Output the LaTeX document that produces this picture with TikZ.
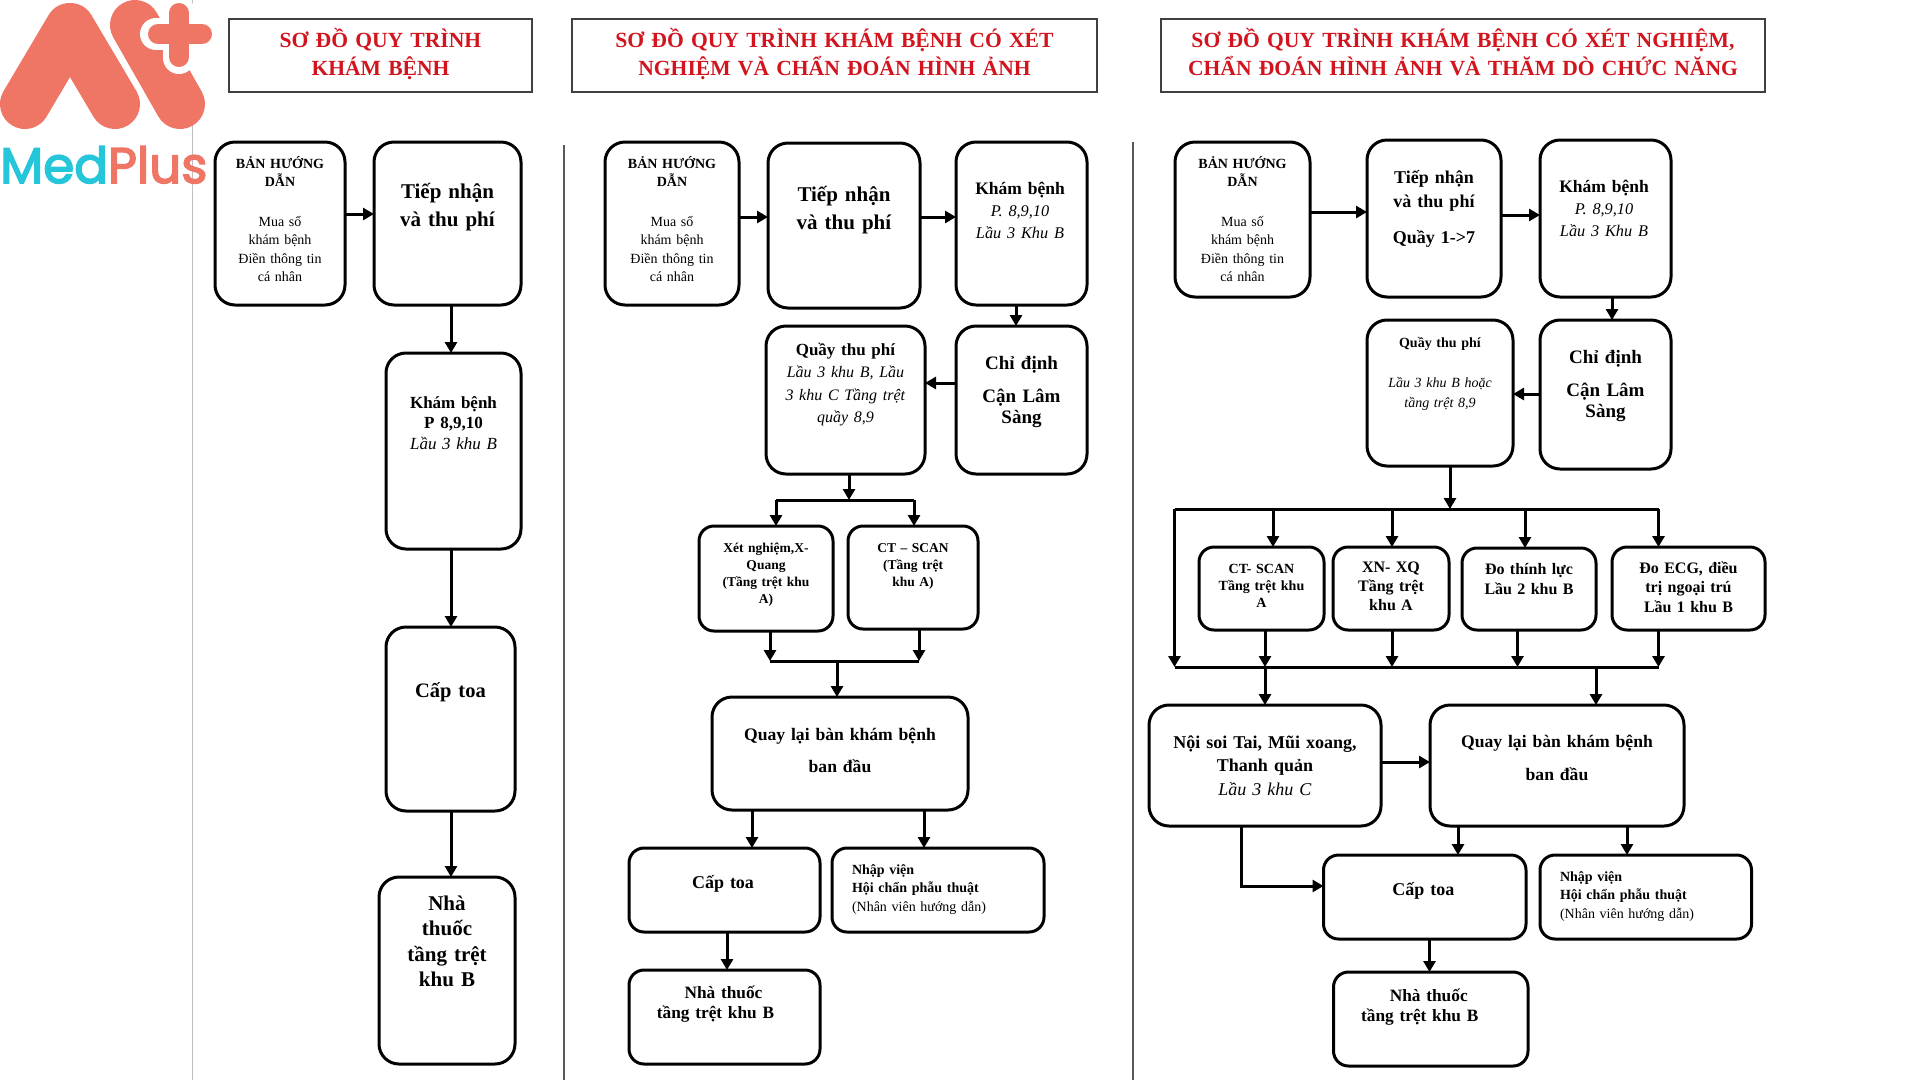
\documentclass[tikz,border=0pt]{standalone}
\usepackage{fontspec}
\setmainfont{Liberation Serif}
\newfontfamily\logofont[FakeBold=3]{Poppins}
\usetikzlibrary{arrows.meta, positioning, calc}

\newcommand{\fnt}[2]{\fontsize{#1}{#2}\selectfont}
\definecolor{titlered}{HTML}{D2141E}
\definecolor{logocoral}{HTML}{EF7565}
\definecolor{logocyan}{HTML}{26C6DA}

\tikzset{
    flowbox/.style n args={3}{draw, line width=3pt, rounded corners=20pt, anchor=north west, inner sep=0pt, outer sep=0pt,
        align=center, text width=#1pt, text height=#3pt, text depth=#2pt-#3pt},
    headbox/.style n args={3}{draw=black!75, line width=1.6pt, anchor=north west, inner sep=0pt, outer sep=0pt,
        align=center, text width=#1pt, text height=#3pt, text depth=#2pt-#3pt, text=titlered, font=\fnt{21.6}{28}\bfseries},
    arr/.style={line width=3pt, -{Triangle[length=11pt,width=12pt]}},
    busline/.style={line width=3pt},
    sepline/.style={line width=1.5pt, draw=black!65},
}

\begin{document}
\begin{tikzpicture}[x=1pt,y=-1pt]
    \useasboundingbox (0,0) rectangle (1920,1080);
    \fill[white] (0,0) rectangle (1920,1080);

    % Column separators
    \draw[sepline, draw=black!25] (192.5,0) -- (192.5,1080);
    \draw[sepline] (564,145) -- (564,1080);
    \draw[sepline] (1133,142) -- (1133,1080);

    % Logo
    \draw[logocoral, line width=50pt, line cap=round, line join=round] (25,104) -- (70,28) -- (115,104);
    \draw[white, line width=60pt, line cap=round] (135,25) -- (178,98);
    \draw[logocoral, line width=50pt, line cap=round] (135,25) -- (180,104);
    \draw[white, line width=32pt, line cap=round] (156,34) -- (204,34) (179,12) -- (179,58);
    \draw[logocoral, line width=20pt, line cap=round] (158,34) -- (202,34) (179,13) -- (179,57);
    \node[anchor=base west, inner sep=0pt, font=\logofont\fontsize{50}{50}\selectfont] (logotext) at (0,183)
        {\textcolor{logocyan}{Med}\textcolor{logocoral}{Plus}};

    % Column 1
    \node[headbox={303}{73}{28}] (hda) at (229,19) {SƠ ĐỒ QUY TRÌNH\\KHÁM BỆNH};
    \node[flowbox={130}{163}{26}, font=\fnt{14}{18.5}] (aguide) at (215,142)
        {\textbf{BẢN HƯỚNG\\DẪN}\\[21pt]Mua sổ\\khám bệnh\\Điền thông tin\\cá nhân};
    \node[flowbox={147}{163}{56}, font=\fnt{21}{28}\bfseries] (arecv) at (374,142) {Tiếp nhận\\và thu phí};
    \node[flowbox={135}{196}{55}, font=\fnt{17}{20.5}] (aexam) at (386,353)
        {\textbf{Khám bệnh\\P 8,9,10}\\\textit{Lầu 3 khu B}};
    \node[flowbox={129}{184}{70}, font=\fnt{20.5}{24}\bfseries] (apres) at (386,627) {Cấp toa};
    \node[flowbox={136}{187}{33}, font=\fnt{21}{25.5}\bfseries] (apharm) at (379,877)
        {Nhà\\thuốc\\tầng trệt\\khu B};

    \coordinate (adown) at (451,0);
    \draw[arr] (aguide.east |- 0,214) -- (arecv.west |- 0,214);
    \draw[arr] (arecv.south -| adown) -- (aexam.north -| adown);
    \draw[arr] (aexam.south -| adown) -- (apres.north -| adown);
    \draw[arr] (apres.south -| adown) -- (apharm.north -| adown);

    % Column 2
    \node[headbox={525}{73}{28}] (hdb) at (572,19) {SƠ ĐỒ QUY TRÌNH KHÁM BỆNH CÓ XÉT\\NGHIỆM VÀ CHẨN ĐOÁN HÌNH ẢNH};
    \node[flowbox={134}{163}{26}, font=\fnt{14}{18.5}] (bguide) at (605,142)
        {\textbf{BẢN HƯỚNG\\DẪN}\\[21pt]Mua sổ\\khám bệnh\\Điền thông tin\\cá nhân};
    \node[flowbox={152}{165}{58}, font=\fnt{21}{28}\bfseries] (brecv) at (768,143) {Tiếp nhận\\và thu phí};
    \node[flowbox={131}{163}{52}, font=\fnt{17.5}{22}] (bexam) at (956,142)
        {\hspace*{-3pt}\textbf{Khám bệnh}\\\hspace*{-3pt}\fnt{16.3}{22}\textit{P. 8,9,10}\\\hspace*{-3pt}\fnt{16.3}{22}\textit{Lầu 3 Khu B}};
    \node[flowbox={131}{148}{43}, font=\fnt{19}{21}\bfseries] (border) at (956,326) {Chỉ định\\[12pt]Cận Lâm\\Sàng};
    \node[flowbox={159}{148}{29}, font=\fnt{17}{22.5}] (bfee) at (766,326)
        {\textbf{Quầy thu phí}\\\fnt{16}{22.5}\textit{Lầu 3 khu B, Lầu}\\\fnt{16}{22.5}\textit{3 khu C Tầng trệt}\\\fnt{16}{22.5}\textit{quầy 8,9}};
    \node[flowbox={134}{105}{26}, rounded corners=15pt, font=\fnt{13.5}{17}\bfseries] (blab) at (699,526)
        {Xét nghiệm,X-\\Quang\\(Tầng trệt khu\\A)};
    \node[flowbox={130}{103}{26}, rounded corners=15pt, font=\fnt{13.5}{17}\bfseries] (bct) at (848,526)
        {CT – SCAN\\(Tầng trệt\\khu A)};
    \node[flowbox={256}{113}{43}, font=\fnt{17.6}{32}\bfseries] (bback) at (712,697) {Quay lại bàn khám bệnh\\ban đầu};
    \node[flowbox={191}{84}{40}, rounded corners=15pt, font=\fnt{18}{22}\bfseries] (bpres) at (629,848) {\hspace*{-3pt}Cấp toa};
    \node[flowbox={212}{84}{26}, rounded corners=15pt, align=left, font=\fnt{14}{18.5}] (badmit) at (832,848)
        {\hspace*{20pt}\textbf{Nhập viện}\\\hspace*{20pt}\textbf{Hội chẩn phẫu thuật}\\\hspace*{20pt}(Nhân viên hướng dẫn)};
    \node[flowbox={191}{94}{28}, rounded corners=15pt, font=\fnt{17.3}{20}\bfseries] (bpharm) at (629,970)
        {\hspace*{-2pt}Nhà thuốc\\\hspace*{-18pt}tầng trệt khu B};

    \coordinate (bbusa) at (849,500);
    \coordinate (bbusl) at (776,500);
    \coordinate (bbusr) at (914,500);
    \coordinate (bjoin) at (837,661);
    \coordinate (bjoinl) at (770,661);
    \coordinate (bjoinr) at (919,661);
    \coordinate (bleft) at (752,0);
    \coordinate (bright) at (924,0);
    \coordinate (bdown) at (727,0);
    \draw[arr] (bguide.east |- 0,217) -- (brecv.west |- 0,217);
    \draw[arr] (brecv.east |- 0,217) -- (bexam.west |- 0,217);
    \draw[arr] (bexam.south -| 1016,0) -- (border.north -| 1016,0);
    \draw[arr] (border.west |- 0,383) -- (bfee.east |- 0,383);
    \draw[arr] (bfee.south -| bbusa) -- (bbusa);
    \draw[busline] (bbusl) -- (bbusr);
    \draw[arr] (bbusl) -- (blab.north -| bbusl);
    \draw[arr] (bbusr) -- (bct.north -| bbusr);
    \draw[arr] (blab.south -| bjoinl) -- (bjoinl);
    \draw[arr] (bct.south -| bjoinr) -- (bjoinr);
    \draw[busline] (bjoinl) -- (bjoinr);
    \draw[arr] (bjoin) -- (bback.north -| bjoin);
    \draw[arr] (bback.south -| bleft) -- (bpres.north -| bleft);
    \draw[arr] (bback.south -| bright) -- (badmit.north -| bright);
    \draw[arr] (bpres.south -| bdown) -- (bpharm.north -| bdown);

    % Column 3
    \node[headbox={604}{73}{28}] (hdc) at (1161,19) {SƠ ĐỒ QUY TRÌNH KHÁM BỆNH CÓ XÉT NGHIỆM,\\CHẨN ĐOÁN HÌNH ẢNH VÀ THĂM DÒ CHỨC NĂNG};
    \node[flowbox={135}{155}{26}, font=\fnt{14}{18.5}] (cguide) at (1175,142)
        {\textbf{BẢN HƯỚNG\\DẪN}\\[21pt]Mua số\\khám bệnh\\Điền thông tin\\cá nhân};
    \node[flowbox={134}{157}{43}, font=\fnt{18}{24}\bfseries] (crecv) at (1367,140) {Tiếp nhận\\và thu phí\\[12pt]Quầy 1->7};
    \node[flowbox={131}{157}{52}, font=\fnt{17.5}{22}] (cexam) at (1540,140)
        {\hspace*{-3pt}\textbf{Khám bệnh}\\\hspace*{-3pt}\fnt{16.3}{22}\textit{P. 8,9,10}\\\hspace*{-3pt}\fnt{16.3}{22}\textit{Lầu 3 Khu B}};
    \node[flowbox={131}{149}{43}, font=\fnt{19}{21}\bfseries] (corder) at (1540,320) {Chỉ định\\[12pt]Cận Lâm\\Sàng};
    \node[flowbox={146}{146}{27}, font=\fnt{14}{20}] (cfee) at (1367,320)
        {\textbf{Quầy thu phí}\\[20pt]\textit{Lầu 3 khu B hoặc}\\\textit{tầng trệt 8,9}};
    \node[flowbox={125}{83}{26}, rounded corners=15pt, font=\fnt{14}{17}\bfseries] (cct) at (1199,547) {CT- SCAN\\Tầng trệt khu\\A};
    \node[flowbox={116}{83}{25}, rounded corners=15pt, font=\fnt{16}{19}\bfseries] (cxn) at (1333,547) {XN- XQ\\Tầng trệt\\khu A};
    \node[flowbox={134}{82}{26}, rounded corners=15pt, font=\fnt{16}{20}\bfseries] (chear) at (1462,548) {Đo thính lực\\Lầu 2 khu B};
    \node[flowbox={153}{83}{26}, rounded corners=15pt, font=\fnt{16}{19.5}\bfseries] (cecg) at (1612,547) {Đo ECG, điều\\trị ngoại trú\\Lầu 1 khu B};
    \node[flowbox={232}{121}{43}, font=\fnt{18}{23.5}] (cscope) at (1149,705)
        {\textbf{Nội soi Tai, Mũi xoang,\\Thanh quản}\\\textit{Lầu 3 khu C}};
    \node[flowbox={254}{121}{42}, font=\fnt{17.6}{33}\bfseries] (cback) at (1430,705) {Quay lại bàn khám bệnh\\ban đầu};
    \node[flowbox={202.5}{84}{40}, rounded corners=15pt, font=\fnt{18}{22}\bfseries] (cpres) at (1323.5,855) {\hspace*{-3pt}Cấp toa};
    \node[flowbox={211.5}{84}{26}, rounded corners=15pt, align=left, font=\fnt{14}{18.5}] (cadmit) at (1540,855)
        {\hspace*{20pt}\textbf{Nhập viện}\\\hspace*{20pt}\textbf{Hội chẩn phẫu thuật}\\\hspace*{20pt}(Nhân viên hướng dẫn)};
    \node[flowbox={194.5}{94}{29}, rounded corners=15pt, font=\fnt{17.3}{20}\bfseries] (cpharm) at (1333.5,972)
        {\hspace*{-4pt}Nhà thuốc\\\hspace*{-22pt}tầng trệt khu B};

    \coordinate (cbusa) at (1450,509);
    \coordinate (cbusl) at (1174.5,509);
    \coordinate (cbusr) at (1658.5,509);
    \coordinate (cjoinl) at (1174.5,667);
    \coordinate (cjoinr) at (1658.5,667);
    \coordinate (celbow) at (1241,886);
    \draw[arr] (cguide.east |- 0,212) -- (crecv.west |- 0,212);
    \draw[arr] (crecv.east |- 0,215) -- (cexam.west |- 0,215);
    \draw[arr] (cexam.south -| 1612,0) -- (corder.north -| 1612,0);
    \draw[arr] (corder.west |- 0,394) -- (cfee.east |- 0,394);
    \draw[arr] (cfee.south -| cbusa) -- (cbusa);
    \draw[busline] (cbusl) -- (cbusr);
    \draw[arr] (cbusl) -- (cjoinl);
    \foreach \a/\x in {cct/1273, cxn/1392, chear/1525, cecg/1658.5}
        \draw[arr] (\x,509) -- (\a.north -| \x,0);
    \foreach \a/\x in {cct/1265, cxn/1392, chear/1517.5, cecg/1658.5}
        \draw[arr] (\a.south -| \x,0) -- (\x,667);
    \draw[busline] (cjoinl) -- (cjoinr);
    \draw[arr] (1265,667) -- (cscope.north -| 1265,0);
    \draw[arr] (1596,667) -- (cback.north -| 1596,0);
    \draw[arr] (cscope.east |- 0,762) -- (cback.west |- 0,762);
    \draw[arr] (cback.south -| 1458,0) -- (cpres.north -| 1458,0);
    \draw[arr] (cback.south -| 1627,0) -- (cadmit.north -| 1627,0);
    \draw[arr] (cscope.south -| celbow) -- (celbow) -- (cpres.west |- celbow);
    \draw[arr] (cpres.south -| 1429.5,0) -- (cpharm.north -| 1429.5,0);
\end{tikzpicture}
\end{document}
